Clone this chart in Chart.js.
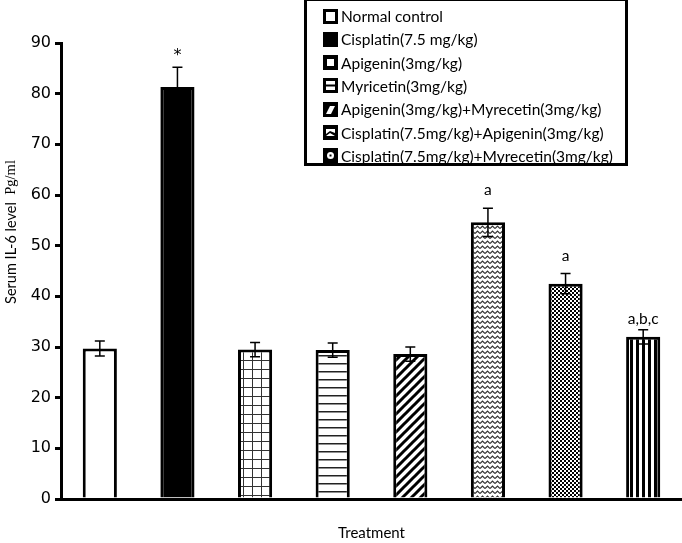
<!DOCTYPE html>
<html>
<head>
<meta charset="utf-8">
<script src="https://cdn.jsdelivr.net/npm/chart.js@4.4.1/dist/chart.umd.min.js"></script>
<style>
    body { margin: 0; background: #fff; }
    #wrap { position: relative; width: 682px; height: 543px; }
    #legendBox {
        position: absolute;
        left: 304px;
        top: -2px;
        width: 318px;
        height: 162px;
        border: 3px solid #000;
        background: #fff;
        font-family: Lato, "Open Sans", sans-serif;
        font-size: 15.5px;
        color: #000;
    }
    .legend-row {
        position: absolute;
        left: 16px;
        height: 18px;
        display: flex;
        align-items: center;
        white-space: nowrap;
    }
    .legend-row canvas { margin-right: 3px; }
</style>
</head>
<body>
<div id="wrap">
    <canvas id="chart" width="682" height="543"></canvas>
    <div id="legendBox"></div>
</div>
<script>
// Chart data
const categories = ['Normal control', 'Cisplatin(7.5 mg/kg)', 'Apigenin(3mg/kg)', 'Myricetin(3mg/kg)',
    'Apigenin(3mg/kg)+Myrecetin(3mg/kg)', 'Cisplatin(7.5mg/kg)+Apigenin(3mg/kg)',
    'Cisplatin(7.5mg/kg)+Myrecetin(3mg/kg)', 'Group 8'];
const il6Values = [29.7, 81.3, 29.5, 29.4, 28.6, 54.6, 42.5, 32.0];
const il6Errors = [1.5, 3.9, 1.4, 1.4, 1.4, 2.8, 2.0, 1.4];
const sigLabels = ['', '*', '', '', '', 'a', 'a', 'a,b,c'];
const legendLabels = categories.slice(0, 7);
const fillKinds = ['white', 'black', 'grid', 'hlines', 'diag', 'zigzag', 'checker', 'vlines'];
const yTicks = [0, 10, 20, 30, 40, 50, 60, 70, 80, 90];

function makePattern(kind) {
    const c = document.createElement('canvas');
    let w = 8, h = 8;
    if (kind === 'grid') { w = 9; h = 9; }
    if (kind === 'hlines') { w = 4; h = 8; }
    if (kind === 'diag') { w = 9; h = 9; }
    if (kind === 'zigzag') { w = 5; h = 5; }
    if (kind === 'checker') { w = 4; h = 4; }
    if (kind === 'vlines') { w = 6; h = 4; }
    c.width = w; c.height = h;
    const ctx = c.getContext('2d');
    ctx.fillStyle = '#fff';
    ctx.fillRect(0, 0, w, h);
    ctx.fillStyle = '#000';
    ctx.strokeStyle = '#000';
    if (kind === 'black') {
        ctx.fillRect(0, 0, w, h);
    } else if (kind === 'grid') {
        ctx.fillStyle = '#333';
        ctx.fillRect(0, 0, w, 1);
        ctx.fillRect(0, 0, 1, h);
    } else if (kind === 'hlines') {
        ctx.fillStyle = '#222';
        ctx.fillRect(0, 3, w, 1.5);
    } else if (kind === 'diag') {
        ctx.lineWidth = 3;
        ctx.beginPath();
        ctx.moveTo(-1, 10); ctx.lineTo(10, -1);
        ctx.moveTo(-2, 2); ctx.lineTo(2, -2);
        ctx.moveTo(7, 11); ctx.lineTo(11, 7);
        ctx.stroke();
    } else if (kind === 'zigzag') {
        ctx.strokeStyle = '#333';
        ctx.lineWidth = 1.2;
        ctx.beginPath();
        ctx.moveTo(0, 3.5); ctx.lineTo(2.5, 1); ctx.lineTo(5, 3.5);
        ctx.stroke();
    } else if (kind === 'checker') {
        ctx.fillRect(0, 0, 2, 2);
        ctx.fillRect(2, 2, 2, 2);
    } else if (kind === 'vlines') {
        ctx.fillRect(0, 0, 3, h);
    }
    const pctx = document.createElement('canvas').getContext('2d');
    return pctx.createPattern(c, 'repeat');
}

function drawSwatch(kind) {
    const c = document.createElement('canvas');
    c.width = 15; c.height = 15;
    const ctx = c.getContext('2d');
    ctx.fillStyle = '#000';
    ctx.fillRect(0, 0, 15, 15);
    ctx.fillStyle = '#fff';
    if (kind === 'white') {
        ctx.fillRect(3, 3, 9, 9);
    } else if (kind === 'grid') {
        ctx.fillRect(4, 4, 7, 7);
    } else if (kind === 'hlines') {
        ctx.fillRect(3, 3, 9, 9);
        ctx.fillStyle = '#000';
        ctx.fillRect(3, 6.5, 9, 2);
    } else if (kind === 'diag') {
        ctx.beginPath();
        ctx.moveTo(3, 12); ctx.lineTo(7, 4); ctx.lineTo(12, 4); ctx.lineTo(8, 12);
        ctx.closePath();
        ctx.fill();
    } else if (kind === 'zigzag') {
        ctx.fillRect(3, 4, 9, 7);
        ctx.fillStyle = '#000';
        ctx.beginPath();
        ctx.moveTo(3, 9); ctx.lineTo(7, 6); ctx.lineTo(12, 8); ctx.lineTo(12, 11); ctx.lineTo(7, 8); ctx.lineTo(3, 11);
        ctx.closePath();
        ctx.fill();
    } else if (kind === 'checker') {
        ctx.beginPath();
        ctx.arc(7.5, 7.5, 3.5, 0, Math.PI * 2);
        ctx.fill();
        ctx.fillStyle = '#000';
        ctx.fillRect(6.5, 6.5, 2, 2);
    }
    return c;
}

// Legend
const legendBox = document.getElementById('legendBox');
legendLabels.forEach((label, i) => {
    const row = document.createElement('div');
    row.className = 'legend-row';
    row.style.top = (6 + i * 23.3) + 'px';
    row.appendChild(drawSwatch(fillKinds[i]));
    const span = document.createElement('span');
    span.textContent = label;
    row.appendChild(span);
    legendBox.appendChild(row);
});

// Error bars, significance marks and axis titles
const extrasPlugin = {
    id: 'extras',
    afterDatasetsDraw(chart) {
        const ctx = chart.ctx;
        const y = chart.scales.y;
        const meta = chart.getDatasetMeta(0);
        ctx.save();
        ctx.strokeStyle = '#000';
        ctx.lineWidth = 1.5;
        meta.data.forEach((bar, i) => {
            const top = y.getPixelForValue(il6Values[i] + il6Errors[i]);
            const bot = y.getPixelForValue(il6Values[i] - il6Errors[i]);
            ctx.beginPath();
            ctx.moveTo(bar.x, top); ctx.lineTo(bar.x, bot);
            ctx.moveTo(bar.x - 5, top); ctx.lineTo(bar.x + 5, top);
            ctx.moveTo(bar.x - 5, bot); ctx.lineTo(bar.x + 5, bot);
            ctx.stroke();
            if (sigLabels[i]) {
                ctx.fillStyle = '#000';
                ctx.textAlign = 'center';
                ctx.textBaseline = 'bottom';
                ctx.font = sigLabels[i] === '*' ? '16px "DejaVu Sans"' : '15.5px Lato';
                const gap = sigLabels[i] === 'a' ? 10 : 3;
                ctx.fillText(sigLabels[i], bar.x, top - gap);
            }
        });

        // x title
        const area = chart.chartArea;
        ctx.fillStyle = '#000';
        ctx.font = '15px Lato';
        ctx.textAlign = 'center';
        ctx.textBaseline = 'middle';
        ctx.fillText('Treatment', (area.left + area.right) / 2, 533);

        // y title, mixed fonts
        ctx.translate(11, 232);
        ctx.rotate(-Math.PI / 2);
        ctx.textAlign = 'left';
        ctx.font = '14.5px Lato';
        const part1 = 'Serum IL-6 level  ';
        const w1 = ctx.measureText(part1).width;
        ctx.font = '14.5px "Liberation Serif"';
        const w2 = ctx.measureText('Pg/ml').width;
        const start = -(w1 + w2) / 2;
        ctx.font = '14.5px Lato';
        ctx.fillText(part1, start, 0);
        ctx.font = '14.5px "Liberation Serif"';
        ctx.fillText('Pg/ml', start + w1, 0);
        ctx.restore();
    }
};

new Chart(document.getElementById('chart'), {
    type: 'bar',
    data: {
        labels: categories,
        datasets: [{
            data: il6Values,
            backgroundColor: fillKinds.map(makePattern),
            borderColor: '#000',
            borderWidth: 3,
            borderSkipped: 'start',
            barPercentage: 0.44,
            categoryPercentage: 1
        }]
    },
    options: {
        responsive: false,
        animation: false,
        layout: { padding: { top: 43, right: 0, bottom: 0, left: 0 } },
        plugins: {
            legend: { display: false },
            tooltip: { enabled: false }
        },
        scales: {
            x: {
                grid: { display: false },
                border: { display: true, color: '#000', width: 3 },
                ticks: { display: false },
                afterFit(scale) { scale.height = 44; }
            },
            y: {
                min: 0,
                max: 90,
                afterBuildTicks(scale) { scale.ticks = yTicks.map(v => ({ value: v })); },
                grid: { drawOnChartArea: false, drawTicks: true, tickLength: 6, lineWidth: 3, color: '#000' },
                border: { display: true, color: '#000', width: 3 },
                ticks: {
                    color: '#000',
                    padding: 4,
                    font: { family: 'DejaVu Sans', size: 16 }
                },
                afterFit(scale) { scale.width = 61; }
            }
        }
    },
    plugins: [extrasPlugin]
});
</script>
</body>
</html>
